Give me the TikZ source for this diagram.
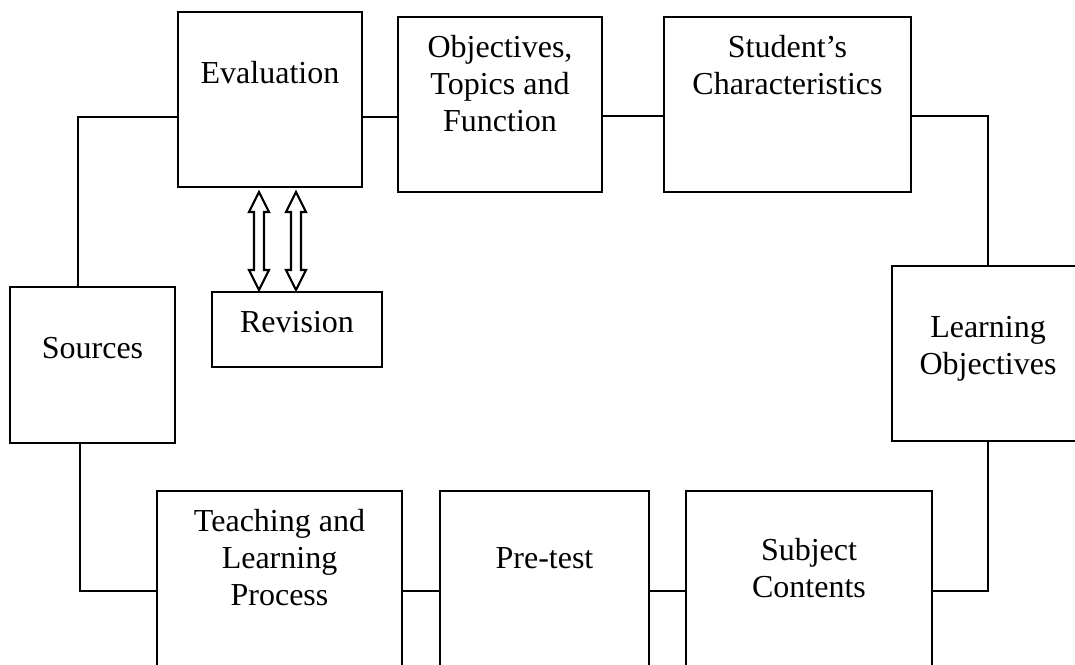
\documentclass[tikz,border=0pt]{standalone}
\usepackage{fontspec}
\setmainfont{Liberation Serif}
\usetikzlibrary{calc}
\newcommand\mystrut{\rule{0pt}{24pt}}
\begin{document}
\begin{tikzpicture}[x=1pt,y=-1pt,
  box/.style={draw, line width=1.2pt, inner sep=0pt, outer sep=0pt, anchor=north west},
  lbl/.style={anchor=north, inner sep=0pt, align=center, font=\fontsize{32}{37}\selectfont},
  link/.style={line width=1.2pt},
  harrow/.style={draw, line width=2.2pt, line join=miter, fill=white}]
\useasboundingbox (0,0) rectangle (1075,664);
\clip (0,0) rectangle (1075,664);
% boxes
\node[box, minimum width=184pt, minimum height=175pt] (eval)  at (178,12) {};
\node[box, minimum width=204pt, minimum height=175pt] (obj)   at (398,17) {};
\node[box, minimum width=247pt, minimum height=175pt] (stud)  at (664,17) {};
\node[box, minimum width=192pt, minimum height=175pt] (lo)    at (892,266) {};
\node[box, minimum width=246pt, minimum height=190pt] (subj)  at (686,491) {};
\node[box, minimum width=209pt, minimum height=190pt] (pre)   at (440,491) {};
\node[box, minimum width=245pt, minimum height=190pt] (teach) at (157,491) {};
\node[box, minimum width=165pt, minimum height=156pt] (src)   at (10,287) {};
\node[box, minimum width=170pt, minimum height=75pt]  (rev)   at (212,292) {};
% labels
\node[lbl] (evalT)  at ([yshift=-47pt]eval.north)  {\mystrut Evaluation};
\node[lbl] (objT)   at ([yshift=-16pt]obj.north)   {\mystrut Objectives,\\Topics and\\Function};
\node[lbl] (studT)  at ([yshift=-16pt]stud.north)  {\mystrut Student’s\\Characteristics};
\node[lbl] (loT)    at ([yshift=-47pt]lo.north)    {\mystrut Learning\\Objectives};
\node[lbl] (subjT)  at ([yshift=-45pt]subj.north)  {\mystrut Subject\\Contents};
\node[lbl] (preT)   at ([yshift=-53pt]pre.north)   {\mystrut Pre-test};
\node[lbl] (teachT) at ([yshift=-16pt]teach.north) {\mystrut Teaching and\\Learning\\Process};
\node[lbl] (srcT)   at ([yshift=-47pt]src.north)   {\mystrut Sources};
\node[lbl] (revT)   at ([yshift=-16pt]rev.north)   {\mystrut Revision};
% connectors
\coordinate (c1) at ([yshift=-17.5pt]eval.east);
\draw[link] ([yshift=-17.5pt]eval.west) -| ($(src.north west)+(68,0)$);
\draw[link] (c1) -- (c1 -| obj.west);
\draw[link] ([yshift=-11.5pt]obj.east) -- ([yshift=-11.5pt]stud.west);
\draw[link] ([yshift=-11.5pt]stud.east) -| (lo.north);
\draw[link] (lo.south) |- ($(subj.north east)+(0,100)$);
\draw[link] ($(subj.north west)+(0,100)$) -- ($(pre.north east)+(0,100)$);
\draw[link] ($(pre.north west)+(0,100)$) -- ($(teach.north east)+(0,100)$);
\draw[link] ($(teach.north west)+(0,100)$) -| ($(src.south west)+(70,0)$);
% hollow double arrows between Evaluation and Revision
\coordinate (a1t) at ($(eval.south west)+(81,5)$);
\coordinate (a1b) at ($(rev.north west)+(47,-2)$);
\coordinate (a2t) at ($(eval.south west)+(118,5)$);
\coordinate (a2b) at ($(rev.north west)+(84,-2)$);
\draw[harrow] (a1t) -- ++(10,20) -- ++(-5,0) -- ++(0,58) -- ++(5,0) -- (a1b) -- ++(-10,-20) -- ++(5,0) -- ++(0,-58) -- ++(-5,0) -- cycle;
\draw[harrow] (a2t) -- ++(10,20) -- ++(-5,0) -- ++(0,58) -- ++(5,0) -- (a2b) -- ++(-10,-20) -- ++(5,0) -- ++(0,-58) -- ++(-5,0) -- cycle;
\end{tikzpicture}
\end{document}
